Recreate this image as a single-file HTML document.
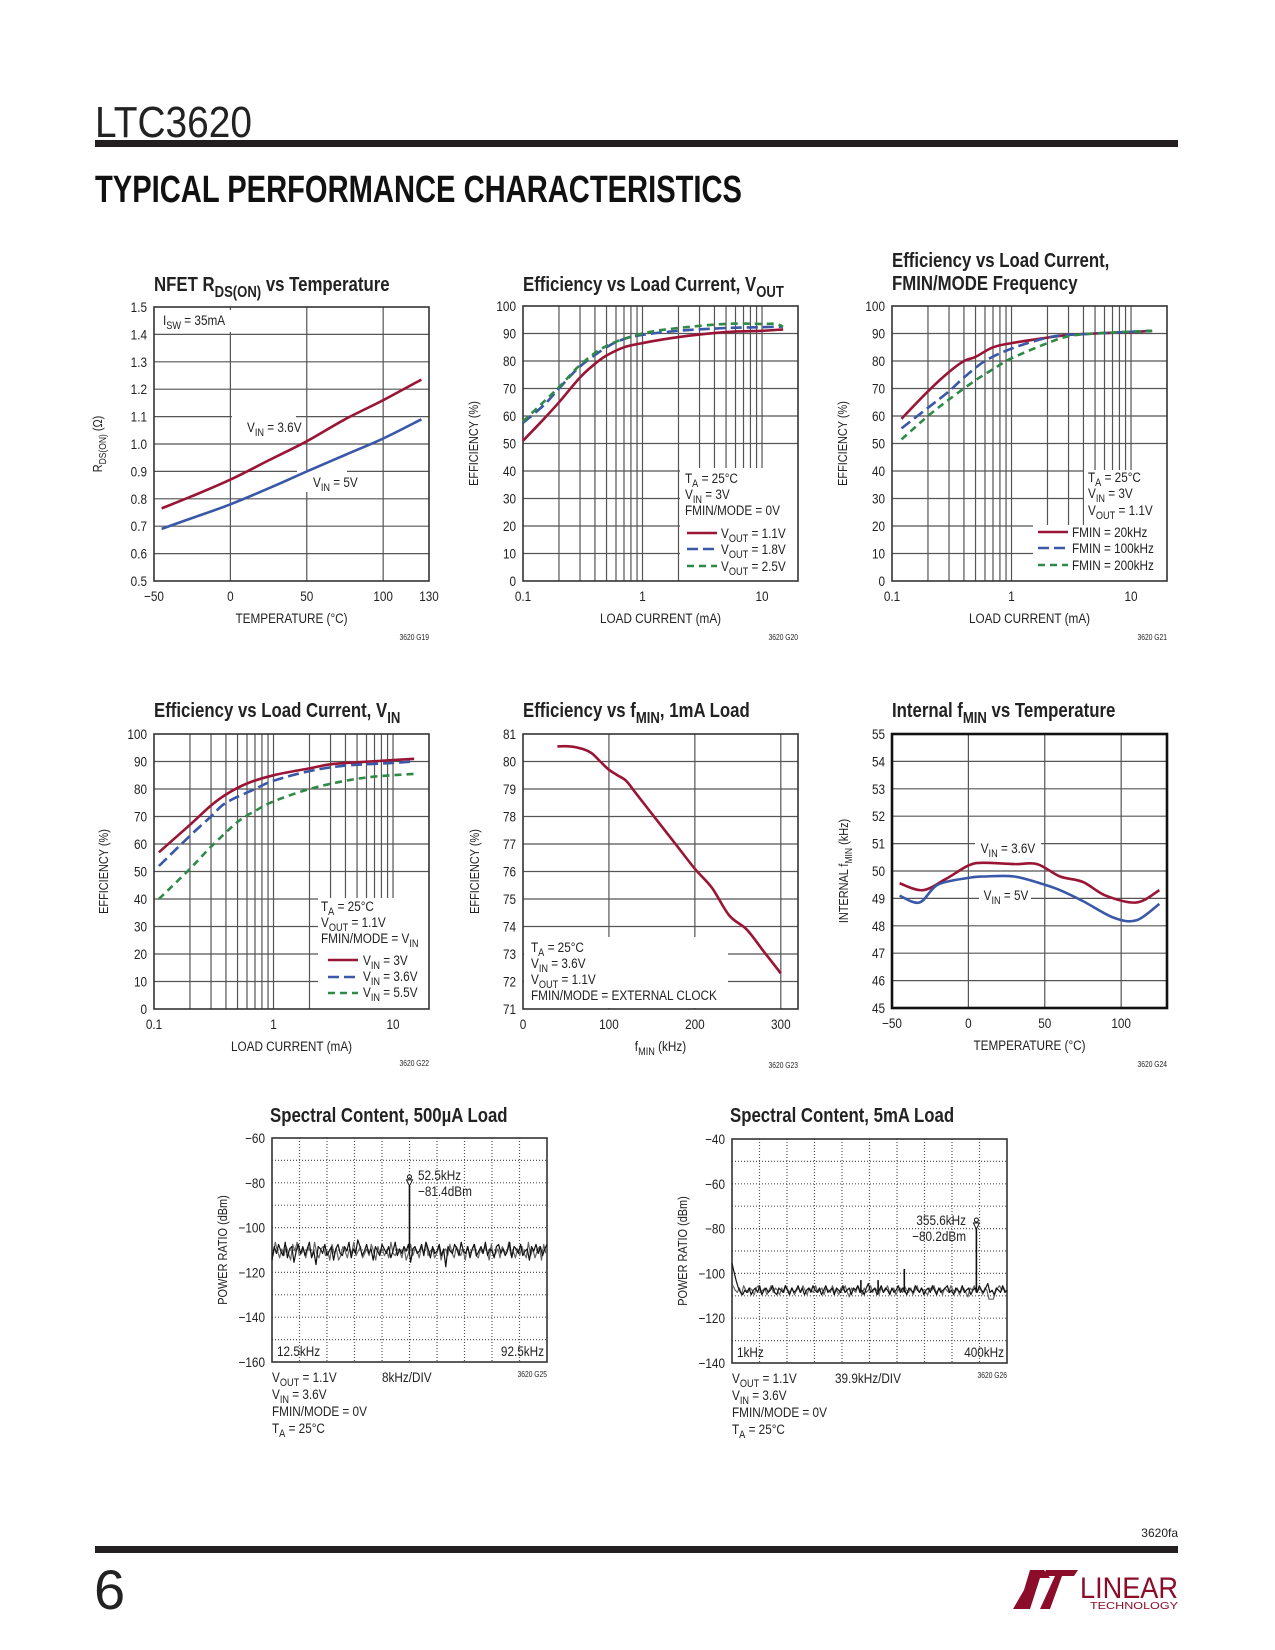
<!DOCTYPE html>
<html><head><meta charset="utf-8"><title>LTC3620 Typical Performance Characteristics</title>
<style>
html,body{margin:0;padding:0;background:#fff;}
svg{display:block;font-family:"Liberation Sans Narrow","Liberation Sans",sans-serif;}
</style></head>
<body>
<svg id="page" xmlns="http://www.w3.org/2000/svg" width="1275" height="1650" viewBox="0 0 1275 1650">
<rect x="0" y="0" width="1275" height="1650" fill="#fff"/>
<text x="95" y="137" font-size="44" fill="#222" textLength="157" lengthAdjust="spacingAndGlyphs">LTC3620</text>
<rect x="95" y="140" width="1083" height="7" fill="#231f20"/>
<text x="95" y="202" font-size="38" font-weight="bold" fill="#111" textLength="647" lengthAdjust="spacingAndGlyphs">TYPICAL PERFORMANCE CHARACTERISTICS</text>
<text x="1178" y="1537" font-size="12" text-anchor="end" fill="#222">3620fa</text>
<rect x="95" y="1546" width="1083" height="7" fill="#231f20"/>
<text x="94" y="1609" font-size="56" fill="#222">6</text>
<g fill="#8b0d2a">
<polygon points="1013,1609 1030,1609 1040,1578 1050,1578 1044,1570 1030,1570 1024,1590"/>
<polygon points="1040,1609 1050,1609 1062,1576 1074,1576 1078,1570 1046,1570 1043,1576 1055,1576"/>
<text x="1080" y="1598" font-size="30" textLength="98" lengthAdjust="spacingAndGlyphs">LINEAR</text>
<text x="1090" y="1609" font-size="10" textLength="88" lengthAdjust="spacingAndGlyphs">TECHNOLOGY</text>
</g>
</svg>
<script>
// ---------- DATA ----------
const c1Temp36 = [-45,-25,0,25,50,75,100,125];
const c1R36 = [0.765,0.81,0.87,0.94,1.01,1.09,1.16,1.235];
const c1Temp5 = [-45,-25,0,30,50,75,100,125];
const c1R5 = [0.69,0.73,0.78,0.85,0.90,0.96,1.02,1.09];
const c1XTicks = [-50,0,50,100,130];
const c1XLabels = ['\u221250','0','50','100','130'];
const c1YTicks = [0.5,0.6,0.7,0.8,0.9,1.0,1.1,1.2,1.3,1.4,1.5];
const c1YLabels = ['0.5','0.6','0.7','0.8','0.9','1.0','1.1','1.2','1.3','1.4','1.5'];
const c2Load11 = [0.1,0.15,0.2,0.3,0.4,0.5,0.7,1,2,5,10,15];
const c2Eff11 = [51,59,65,74,79,82,85,86.5,88.7,90.5,91,91.5];
const c2Load18 = [0.1,0.15,0.2,0.3,0.5,0.7,1,2,5,10,15];
const c2Eff18 = [57.5,64,70,78,85,88,89.5,91,92,92.3,92.5];
const c2Load25 = [0.1,0.2,0.3,0.5,1,2,5,10,13,15];
const c2Eff25 = [58,70.5,78.5,85.5,90,92,93.5,93.5,93.5,92.5];
const c3Load20 = [0.12,0.2,0.3,0.4,0.5,0.7,1,2,3,5,10,15];
const c3Eff20 = [59,69,76,80,81.5,85,86.5,88.5,89.5,90,90.5,91];
const c3Load100 = [0.12,0.2,0.3,0.4,0.6,1,2,3,5,15];
const c3Eff100 = [55.5,63,69,74,80,84.5,88.5,89.5,90,91];
const c3Load200 = [0.12,0.2,0.3,0.5,0.7,1,2,3,5,15];
const c3Eff200 = [51.5,60,66,73,77,81,86.5,89,90,91];
const c4Load3 = [0.11,0.2,0.3,0.4,0.6,1,2,3,5,10,15];
const c4Eff3 = [57,67,74,78,82,85,87.5,89,89.7,90.5,91];
const c4Load36 = [0.11,0.2,0.3,0.4,0.7,1,2,4,10,15];
const c4Eff36 = [52,63,70,75,80,83,86.5,88.5,89.5,90];
const c4Load55 = [0.11,0.2,0.3,0.5,0.7,1,2,4,7,15];
const c4Eff55 = [40,51,59,68,72,75.5,80,83,84.5,85.5];
const logXTicks = [0.1,1,10];
const logXLabels = ['0.1','1','10'];
const effYTicks = [0,10,20,30,40,50,60,70,80,90,100];
const effYLabels = ['0','10','20','30','40','50','60','70','80','90','100'];
const c5Freq = [40,55,70,80,90,100,110,120,130,150,175,200,220,240,260,280,300];
const c5Eff = [80.55,80.55,80.45,80.3,80.0,79.7,79.5,79.3,78.9,78.1,77.1,76.1,75.4,74.4,73.9,73.1,72.3];
const c5XTicks = [0,100,200,300];
const c5XLabels = ['0','100','200','300'];
const c5YTicks = [71,72,73,74,75,76,77,78,79,80,81];
const c5YLabels = ['71','72','73','74','75','76','77','78','79','80','81'];
const c6Temp36 = [-45,-30,-15,0,10,30,45,60,75,90,110,125];
const c6F36 = [49.55,49.3,49.7,50.2,50.3,50.25,50.25,49.8,49.6,49.1,48.85,49.3];
const c6Temp5 = [-45,-32,-20,0,10,30,50,60,75,95,110,125];
const c6F5 = [49.1,48.85,49.5,49.75,49.8,49.8,49.5,49.3,48.9,48.3,48.2,48.8];
const c6XTicks = [-50,0,50,100];
const c6XLabels = ['\u221250','0','50','100'];
const c6YTicks = [45,46,47,48,49,50,51,52,53,54,55];
const c6YLabels = ['45','46','47','48','49','50','51','52','53','54','55'];
const s1Base = -110.5;
const s1Noise = [-4,2,-1,3,0,-2,4,-3,1,2,-5,0,3,-1,2,-2,1,4,-3,0,-6,2,1,-1,3,-2,0,2,-4,1,3,-1,-2,2,0,4,-3,1,-1,5,2,-2,0,3,-1,1,-4,2,0,-2,3,1,-1,2,-3,0,4,-2,1,-1,2,0,3,-5,1,2,-1,0,3,-2,4,1,-3,2,-1,0,3,-2,1,-7,2,0,-1,3,1,-2,4,0,-1,2,-3,1,3,-2,0,2,-1,4,-2,1,0,-3,2,3,-1,1,-2,0,4,-3,2,1,-1,3,-2,0,1,-4,2,0,3,-1,2,-2,1,3];
const s1SpurFreq = [52.5];
const s1SpurLevel = [-81.4];
const s1YTicks = [-160,-140,-120,-100,-80,-60];
const s1YLabels = ['\u2212160','\u2212140','\u2212120','\u2212100','\u221280','\u221260'];
const s2Base = -107.5;
const s2Noise = [12,8,4,1,-1,-2,0,-1,1,-2,0,1,-1,2,-2,0,1,-1,0,2,-1,-2,1,0,-1,2,0,-2,1,-1,0,2,-1,1,-2,0,1,-1,2,0,-1,1,-2,0,2,-1,0,1,-2,1,0,-1,2,-1,0,1,-2,1,0,2,-1,0,-2,1,3,-1,0,1,-2,0,2,-1,1,0,-2,1,-1,0,2,-1,1,0,-2,1,0,-1,2,0,-1,1,-2,0,1,-1,2,0,-2,1,-1,0,1,2,-1,0,-2,1,0,-1,2,-1,0,1,-2,0,1,-1,2,0,-1,1,3,-1,0,-2,1,0,-1,2,-1,0];
const s2SpurFreq = [355.6,251,213,188];
const s2SpurLevel = [-80.2,-98,-103,-103];
const s2YTicks = [-140,-120,-100,-80,-60,-40];
const s2YLabels = ['\u2212140','\u2212120','\u2212100','\u221280','\u221260','\u221240'];

// ---------- HELPERS ----------
const NS = 'http://www.w3.org/2000/svg';
const svg = document.getElementById('page');
const RED = '#9a1535', BLUE = '#3a58a8', GREEN = '#2f8a48', GRID = '#555';
const SQ = 0.84;
function mk(tag, attrs, parent, name) {
  const e = document.createElementNS(NS, tag);
  for (const k in attrs) e.setAttribute(k, attrs[k]);
  
  
  (parent || svg).appendChild(e);
  return e;
}
function label(parent, x, y, s, size, anchor, name, weight) {
  const t = mk('text', {x: 0, y: 0, transform: 'translate(' + x + ',' + y + ') scale(' + SQ + ',1)', 'font-size': size, 'text-anchor': anchor || 'start', fill: '#222', 'font-weight': weight || 'normal'}, parent, name);
  const parts = s.split(/_\{([^}]*)\}/);
  const sub = Math.round(size * 0.28);
  parts.forEach((p, i) => {
    if (!p) return;
    const ts = document.createElementNS(NS, 'tspan');
    ts.textContent = p;
    if (i % 2 === 1) { ts.setAttribute('font-size', size * 0.78); ts.setAttribute('dy', sub); }
    else if (i > 0) { ts.setAttribute('dy', -sub); }
    t.appendChild(ts);
  });
  return t;
}
function linS(d0, d1, r0, r1) { return v => r0 + (v - d0) / (d1 - d0) * (r1 - r0); }
function logS(d0, d1, r0, r1) { const a = Math.log10(d0), b = Math.log10(d1); return v => r0 + (Math.log10(v) - a) / (b - a) * (r1 - r0); }
function smooth(p) {
  let d = 'M' + p[0][0].toFixed(1) + ',' + p[0][1].toFixed(1);
  for (let i = 0; i < p.length - 1; i++) {
    const p0 = p[i - 1] || p[i], p1 = p[i], p2 = p[i + 1], p3 = p[i + 2] || p2;
    const c1 = [p1[0] + (p2[0] - p0[0]) / 6, p1[1] + (p2[1] - p0[1]) / 6];
    const c2 = [p2[0] - (p3[0] - p1[0]) / 6, p2[1] - (p3[1] - p1[1]) / 6];
    d += ' C' + c1[0].toFixed(1) + ',' + c1[1].toFixed(1) + ' ' + c2[0].toFixed(1) + ',' + c2[1].toFixed(1) + ' ' + p2[0].toFixed(1) + ',' + p2[1].toFixed(1);
  }
  return d;
}
function curve(g, xs, ys, sx, sy, color, dash, name) {
  const pts = xs.map((x, i) => [sx(x), sy(ys[i])]);
  const a = {d: smooth(pts), fill: 'none', stroke: color, 'stroke-width': 2.6, 'stroke-linejoin': 'round'};
  if (dash) a['stroke-dasharray'] = dash;
  return mk('path', a, g, name);
}
function chart(o) {
  const g = mk('g', {}, svg, o.name);
  const b = o.box;
  o.xGrid.forEach(v => { mk('line', {x1: o.sx(v), x2: o.sx(v), y1: b.y, y2: b.y + b.h, stroke: GRID, 'stroke-width': 1.2, 'stroke-dasharray': o.dotted ? '1,2' : 'none'}, g, 'x-gridline'); });
  o.yGrid.forEach(v => { mk('line', {x1: b.x, x2: b.x + b.w, y1: o.sy(v), y2: o.sy(v), stroke: GRID, 'stroke-width': 1.2, 'stroke-dasharray': o.dotted ? '1,2' : 'none'}, g, 'y-gridline'); });
  (o.masks || []).forEach(m => { mk('rect', {x: m[0], y: m[1], width: m[2], height: m[3], fill: '#fff'}, g, 'legend-background'); });
  mk('rect', {x: b.x, y: b.y, width: b.w, height: b.h, fill: 'none', stroke: o.heavy ? '#111' : '#333', 'stroke-width': o.heavy ? 2.6 : 1.6}, g, 'plot-frame');
  o.yTicks.forEach((v, i) => { label(g, b.x - 7, o.sy(v) + 5, o.yLabels[i], 14, 'end', 'y-tick-label'); });
  if (o.xTicks) o.xTicks.forEach((v, i) => { label(g, o.sx(v), b.y + b.h + 20, o.xLabels[i], 14, 'middle', 'x-tick-label'); });
  if (o.xTitle) label(g, b.x + b.w / 2, b.y + b.h + 42, o.xTitle, 14, 'middle', 'x-axis-title');
  const yt = label(g, 0, 0, o.yTitle, 13, 'middle', 'y-axis-title');
  yt.setAttribute('transform', 'translate(' + (b.x - (o.yOff || 46)) + ',' + (b.y + b.h / 2) + ') rotate(-90) scale(' + SQ + ',1)');
  o.title.forEach((t, i) => { label(g, o.titleX || b.x, o.titleY[i], t, 20, 'start', 'chart-title', 'bold'); });
  if (o.fig) label(g, b.x + b.w, b.y + b.h + (o.figOff || 59), o.fig, 8, 'end', 'figure-id');
  return g;
}
function legendLine(g, x1, x2, y, color, dash, name) {
  const a = {x1: x1, x2: x2, y1: y, y2: y, stroke: color, 'stroke-width': 2.6};
  if (dash) a['stroke-dasharray'] = dash;
  return mk('line', a, g, name);
}
const logGrid = [0.2,0.3,0.4,0.5,0.6,0.7,0.8,0.9,1,2,3,4,5,6,7,8,9,10];
const effGrid = [10,20,30,40,50,60,70,80,90];

// ---------- CHART 1 ----------
{
  const b = {x: 154, y: 307, w: 275, h: 274};
  const sx = linS(-50, 130, b.x, b.x + b.w), sy = linS(0.5, 1.5, b.y + b.h, b.y);
  const g = chart({name: 'rdson-vs-temperature-chart', box: b, sx, sy, xGrid: [0,50,100], yGrid: [0.6,0.7,0.8,0.9,1.0,1.1,1.2,1.3,1.4],
    masks: [[232, 415, 64, 22], [160, 310, 72, 22], [297, 470, 50, 22]],
    yTicks: c1YTicks, yLabels: c1YLabels, xTicks: c1XTicks, xLabels: c1XLabels, xTitle: 'TEMPERATURE (\u00b0C)',
    yTitle: 'R_{DS(ON)} (\u03a9)', yOff: 52, title: ['NFET R_{DS(ON)} vs Temperature'], titleY: [291], fig: '3620 G19'});
  curve(g, c1Temp36, c1R36, sx, sy, RED, null, 'series-vin-3v6');
  curve(g, c1Temp5, c1R5, sx, sy, BLUE, null, 'series-vin-5v');
  label(g, 163, 325, 'I_{SW} = 35mA', 14, 'start', 'isw-annotation');
  label(g, 247, 432, 'V_{IN} = 3.6V', 14, 'start', 'label-vin-3v6');
  label(g, 313, 487, 'V_{IN} = 5V', 14, 'start', 'label-vin-5v');
}
// ---------- CHART 2 ----------
{
  const b = {x: 523, y: 306, w: 275, h: 275};
  const sx = logS(0.1, 20, b.x, b.x + b.w), sy = linS(0, 100, b.y + b.h, b.y);
  const g = chart({name: 'efficiency-vs-load-vout-chart', box: b, sx, sy, xGrid: logGrid, yGrid: effGrid,
    masks: [[680, 468, 118, 113]],
    yTicks: effYTicks, yLabels: effYLabels, xTicks: logXTicks, xLabels: logXLabels, xTitle: 'LOAD CURRENT (mA)',
    yTitle: 'EFFICIENCY (%)', yOff: 45, title: ['Efficiency vs Load Current, V_{OUT}'], titleY: [291], fig: '3620 G20'});
  curve(g, c2Load11, c2Eff11, sx, sy, RED, null, 'series-vout-1v1');
  curve(g, c2Load18, c2Eff18, sx, sy, BLUE, '11,5', 'series-vout-1v8');
  curve(g, c2Load25, c2Eff25, sx, sy, GREEN, '7,5', 'series-vout-2v5');
  label(g, 685, 483, 'T_{A} = 25\u00b0C', 14, 'start', 'legend-condition');
  label(g, 685, 499, 'V_{IN} = 3V', 14, 'start', 'legend-condition');
  label(g, 685, 515, 'FMIN/MODE = 0V', 14, 'start', 'legend-condition');
  legendLine(g, 687, 717, 533, RED, null, 'legend-swatch-1v1');
  legendLine(g, 687, 717, 549, BLUE, '11,5', 'legend-swatch-1v8');
  legendLine(g, 687, 717, 566, GREEN, '7,5', 'legend-swatch-2v5');
  label(g, 721, 538, 'V_{OUT} = 1.1V', 14, 'start', 'legend-entry');
  label(g, 721, 554, 'V_{OUT} = 1.8V', 14, 'start', 'legend-entry');
  label(g, 721, 571, 'V_{OUT} = 2.5V', 14, 'start', 'legend-entry');
}
// ---------- CHART 3 ----------
{
  const b = {x: 892, y: 306, w: 275, h: 275};
  const sx = logS(0.1, 20, b.x, b.x + b.w), sy = linS(0, 100, b.y + b.h, b.y);
  const g = chart({name: 'efficiency-vs-load-fmin-chart', box: b, sx, sy, xGrid: logGrid, yGrid: effGrid,
    masks: [[1084, 470, 83, 56], [1033, 525, 134, 56]],
    yTicks: effYTicks, yLabels: effYLabels, xTicks: logXTicks, xLabels: logXLabels, xTitle: 'LOAD CURRENT (mA)',
    yTitle: 'EFFICIENCY (%)', yOff: 45, title: ['Efficiency vs Load Current,', 'FMIN/MODE Frequency'], titleY: [267, 290], fig: '3620 G21'});
  curve(g, c3Load20, c3Eff20, sx, sy, RED, null, 'series-fmin-20khz');
  curve(g, c3Load100, c3Eff100, sx, sy, BLUE, '11,5', 'series-fmin-100khz');
  curve(g, c3Load200, c3Eff200, sx, sy, GREEN, '7,5', 'series-fmin-200khz');
  label(g, 1088, 482, 'T_{A} = 25\u00b0C', 14, 'start', 'legend-condition');
  label(g, 1088, 498, 'V_{IN} = 3V', 14, 'start', 'legend-condition');
  label(g, 1088, 515, 'V_{OUT} = 1.1V', 14, 'start', 'legend-condition');
  legendLine(g, 1038, 1068, 532, RED, null, 'legend-swatch-20khz');
  legendLine(g, 1038, 1068, 548, BLUE, '11,5', 'legend-swatch-100khz');
  legendLine(g, 1038, 1068, 565, GREEN, '7,5', 'legend-swatch-200khz');
  label(g, 1072, 537, 'FMIN = 20kHz', 14, 'start', 'legend-entry');
  label(g, 1072, 553, 'FMIN = 100kHz', 14, 'start', 'legend-entry');
  label(g, 1072, 570, 'FMIN = 200kHz', 14, 'start', 'legend-entry');
}
// ---------- CHART 4 ----------
{
  const b = {x: 154, y: 734, w: 275, h: 275};
  const sx = logS(0.1, 20, b.x, b.x + b.w), sy = linS(0, 100, b.y + b.h, b.y);
  const g = chart({name: 'efficiency-vs-load-vin-chart', box: b, sx, sy, xGrid: logGrid, yGrid: effGrid,
    masks: [[318, 898, 111, 111]],
    yTicks: effYTicks, yLabels: effYLabels, xTicks: logXTicks, xLabels: logXLabels, xTitle: 'LOAD CURRENT (mA)',
    yTitle: 'EFFICIENCY (%)', yOff: 46, title: ['Efficiency vs Load Current, V_{IN}'], titleY: [717], fig: '3620 G22', figOff: 57});
  curve(g, c4Load3, c4Eff3, sx, sy, RED, null, 'series-vin-3v');
  curve(g, c4Load36, c4Eff36, sx, sy, BLUE, '11,5', 'series-vin-3v6');
  curve(g, c4Load55, c4Eff55, sx, sy, GREEN, '7,5', 'series-vin-5v5');
  label(g, 321, 911, 'T_{A} = 25\u00b0C', 14, 'start', 'legend-condition');
  label(g, 321, 927, 'V_{OUT} = 1.1V', 14, 'start', 'legend-condition');
  label(g, 321, 943, 'FMIN/MODE = V_{IN}', 14, 'start', 'legend-condition');
  legendLine(g, 328, 358, 960, RED, null, 'legend-swatch-3v');
  legendLine(g, 328, 358, 977, BLUE, '11,5', 'legend-swatch-3v6');
  legendLine(g, 328, 358, 993, GREEN, '7,5', 'legend-swatch-5v5');
  label(g, 363, 965, 'V_{IN} = 3V', 14, 'start', 'legend-entry');
  label(g, 363, 981, 'V_{IN} = 3.6V', 14, 'start', 'legend-entry');
  label(g, 363, 997, 'V_{IN} = 5.5V', 14, 'start', 'legend-entry');
}
// ---------- CHART 5 ----------
{
  const b = {x: 523, y: 734, w: 275, h: 275};
  const sx = linS(0, 320, b.x, b.x + b.w), sy = linS(71, 81, b.y + b.h, b.y);
  const g = chart({name: 'efficiency-vs-fmin-chart', box: b, sx, sy, xGrid: [100,200,300], yGrid: [72,73,74,75,76,77,78,79,80],
    masks: [[524, 937, 204, 71]],
    yTicks: c5YTicks, yLabels: c5YLabels, xTicks: c5XTicks, xLabels: c5XLabels, xTitle: 'f_{MIN} (kHz)',
    yTitle: 'EFFICIENCY (%)', yOff: 44, title: ['Efficiency vs f_{MIN}, 1mA Load'], titleY: [717], fig: '3620 G23', figOff: 59});
  curve(g, c5Freq, c5Eff, sx, sy, RED, null, 'series-efficiency');
  label(g, 531, 952, 'T_{A} = 25\u00b0C', 14, 'start', 'legend-condition');
  label(g, 531, 968, 'V_{IN} = 3.6V', 14, 'start', 'legend-condition');
  label(g, 531, 984, 'V_{OUT} = 1.1V', 14, 'start', 'legend-condition');
  label(g, 531, 1000, 'FMIN/MODE = EXTERNAL CLOCK', 14, 'start', 'legend-condition');
}
// ---------- CHART 6 ----------
{
  const b = {x: 892, y: 734, w: 275, h: 274};
  const sx = linS(-50, 130, b.x, b.x + b.w), sy = linS(45, 55, b.y + b.h, b.y);
  const g = chart({name: 'internal-fmin-vs-temperature-chart', box: b, sx, sy, xGrid: [0,50,100], yGrid: [46,47,48,49,50,51,52,53,54],
    masks: [[975, 838, 66, 22], [979, 886, 52, 20]], heavy: true,
    yTicks: c6YTicks, yLabels: c6YLabels, xTicks: c6XTicks, xLabels: c6XLabels, xTitle: 'TEMPERATURE (\u00b0C)',
    yTitle: 'INTERNAL f_{MIN} (kHz)', yOff: 44, title: ['Internal f_{MIN} vs Temperature'], titleY: [717], fig: '3620 G24', figOff: 59});
  curve(g, c6Temp36, c6F36, sx, sy, RED, null, 'series-vin-3v6');
  curve(g, c6Temp5, c6F5, sx, sy, BLUE, null, 'series-vin-5v');
  label(g, 1008, 853, 'V_{IN} = 3.6V', 14, 'middle', 'label-vin-3v6');
  label(g, 1006, 900, 'V_{IN} = 5V', 14, 'middle', 'label-vin-5v');
}
// ---------- SPECTRAL ----------
function spectral(o) {
  const b = o.box;
  const sx = linS(o.f0, o.f1, b.x, b.x + b.w), sy = linS(o.yMin, o.yMax, b.y + b.h, b.y);
  const xg = [], yg = [];
  for (let k = 1; k < 10; k++) xg.push(o.f0 + k * (o.f1 - o.f0) / 10);
  for (let v = o.yMin + 10; v < o.yMax; v += 10) yg.push(v);
  const g = chart({name: o.name, box: b, sx, sy, xGrid: xg, yGrid: yg, dotted: true,
    yTicks: o.yTicks, yLabels: o.yLabels, yTitle: 'POWER RATIO (dBm)', yOff: 45, title: [o.title], titleX: b.x - 2, titleY: [1122], fig: o.fig, figOff: 15});
  const n = o.noise.length;
  const freqAt = i => o.f0 + i * (o.f1 - o.f0) / (n - 1);
  let d = '', d2 = '';
  o.noise.forEach((v, i) => { d += (i ? ' L' : 'M') + sx(freqAt(i)).toFixed(1) + ',' + sy(o.base + v).toFixed(1); });
  o.noise.forEach((v, i) => {
    const f = Math.min(o.f0 + (i + 0.5) * (o.f1 - o.f0) / n, o.f1);
    const alt = Math.max(-4, Math.min(4, -o.noise[(i + 9) % n]));
    d2 += (i ? ' L' : 'M') + sx(f).toFixed(1) + ',' + sy(o.base + alt).toFixed(1);
  });
  mk('path', {d: d2, fill: 'none', stroke: '#666', 'stroke-width': 1.2, 'stroke-linejoin': 'round'}, g, 'noise-trace-secondary');
  mk('path', {d: d, fill: 'none', stroke: '#111', 'stroke-width': 1.2, 'stroke-linejoin': 'round'}, g, 'noise-trace');
  o.spurF.forEach((f, i) => {
    mk('line', {x1: sx(f), x2: sx(f), y1: sy(o.base - 1), y2: sy(o.spurL[i]), stroke: '#111', 'stroke-width': 1.6}, g, 'spur-line');
  });
  const mf = sx(o.spurF[0]), my = sy(o.spurL[0]);
  mk('polygon', {points: (mf - 3) + ',' + (my - 6) + ' ' + (mf + 3) + ',' + (my - 6) + ' ' + mf + ',' + my, fill: '#fff', stroke: '#111', 'stroke-width': 1}, g, 'peak-marker');
  mk('circle', {cx: mf, cy: my - 9, r: 2, fill: 'none', stroke: '#111', 'stroke-width': 1}, g, 'peak-marker-dot');
  label(g, o.pk[0], o.pk[1], o.pkF, 14, o.pk[2], 'peak-frequency-label');
  label(g, o.pk[0], o.pk[1] + 16, o.pkL, 14, o.pk[2], 'peak-level-label');
  label(g, b.x + 5, b.y + b.h - 6, o.fLo, 14, 'start', 'start-frequency-label');
  label(g, b.x + b.w - 3, b.y + b.h - 6, o.fHi, 14, 'end', 'stop-frequency-label');
  label(g, b.x, b.y + b.h + 20, 'V_{OUT} = 1.1V', 14, 'start', 'condition-vout');
  label(g, o.divX, b.y + b.h + 20, o.div, 14, 'start', 'span-per-division');
  label(g, b.x, b.y + b.h + 37, 'V_{IN} = 3.6V', 14, 'start', 'condition-vin');
  label(g, b.x, b.y + b.h + 54, 'FMIN/MODE = 0V', 14, 'start', 'condition-mode');
  label(g, b.x, b.y + b.h + 71, 'T_{A} = 25\u00b0C', 14, 'start', 'condition-temperature');
}
spectral({name: 'spectral-500ua-chart', box: {x: 272, y: 1138, w: 275, h: 224}, f0: 12.5, f1: 92.5, yMin: -160, yMax: -60,
  yTicks: s1YTicks, yLabels: s1YLabels, noise: s1Noise, base: s1Base, spurF: s1SpurFreq, spurL: s1SpurLevel,
  title: 'Spectral Content, 500\u00b5A Load', fig: '3620 G25', pk: [418, 1180, 'start'], pkF: '52.5kHz', pkL: '\u221281.4dBm',
  fLo: '12.5kHz', fHi: '92.5kHz', div: '8kHz/DIV', divX: 382});
spectral({name: 'spectral-5ma-chart', box: {x: 732, y: 1139, w: 275, h: 224}, f0: 1, f1: 400, yMin: -140, yMax: -40,
  yTicks: s2YTicks, yLabels: s2YLabels, noise: s2Noise, base: s2Base, spurF: s2SpurFreq, spurL: s2SpurLevel,
  title: 'Spectral Content, 5mA Load', fig: '3620 G26', pk: [966, 1225, 'end'], pkF: '355.6kHz', pkL: '\u221280.2dBm',
  fLo: '1kHz', fHi: '400kHz', div: '39.9kHz/DIV', divX: 835});
</script>
</body></html>
